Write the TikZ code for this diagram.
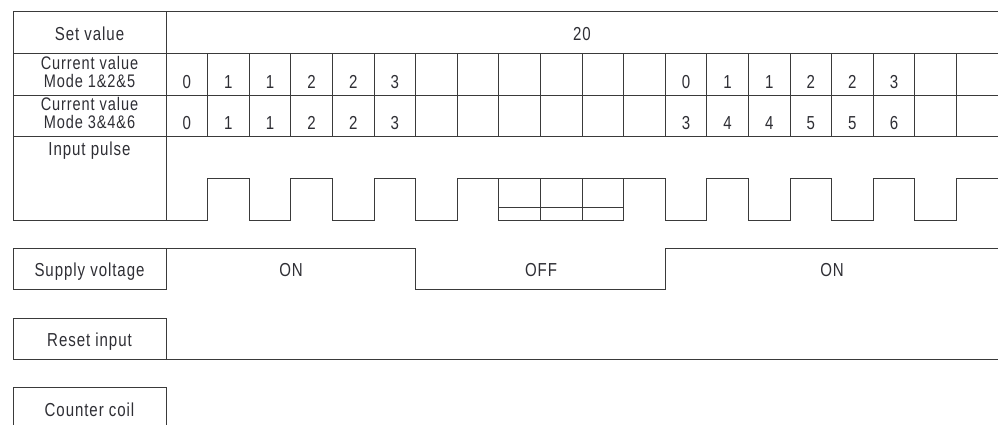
\documentclass[tikz,border=0pt]{standalone}
\usepackage{fontspec}
\setmainfont{Liberation Sans}[FakeStretch=0.8,LetterSpace=5]
\definecolor{ink}{HTML}{3A3A3A}
\definecolor{txt}{HTML}{2E2E34}
\begin{document}
\begin{tikzpicture}[x=1pt,y=-1pt,
  ln/.style={draw=ink,line width=1pt,line join=miter},
  lbl/.style={text=txt,inner sep=0pt,anchor=base,font=\fontsize{18.8}{18}\selectfont},
  lbs/.style={lbl,font=\fontsize{18.2}{17}\selectfont}]
\useasboundingbox (0,0) rectangle (998,424);
\clip (0,0) rectangle (998,424);
% ---------- table frame ----------
\draw[ln] (13,11) -- (998,11);
\draw[ln] (13,53) -- (998,53);
\draw[ln] (13,95) -- (998,95);
\draw[ln] (13,136) -- (998,136);
\draw[ln] (13,11) -- (13,220) -- (166,220);
\draw[ln] (166,11) -- (166,220);
\foreach \k in {1,...,19}{
  \draw[ln] ({166+41.6*\k},53) -- ({166+41.6*\k},136);
}
% ---------- labels ----------
\node[lbl] (setv) at (89.5,40) {Set value};
\node[lbs] (cv1a) at (89.5,69.5) {Current value};
\node[lbs] (cv1b) at (89.5,87) {Mode 1\&2\&5};
\node[lbs] (cv2a) at (89.5,110.5) {Current value};
\node[lbs] (cv2b) at (89.5,128) {Mode 3\&4\&6};
\node[lbl] (inp) at (89.5,155) {Input pulse};
\node[lbl] (twenty) at (582,40) {20};
% ---------- digits ----------
\foreach \k/\v in {0/0,1/1,2/1,3/2,4/2,5/3,12/0,13/1,14/1,15/2,16/2,17/3}{
  \node[lbl] (a\k) at ({186.8+41.6*\k},88) {\v};
}
\foreach \k/\v in {0/0,1/1,2/1,3/2,4/2,5/3,12/3,13/4,14/4,15/5,16/5,17/6}{
  \node[lbl] (b\k) at ({186.8+41.6*\k},129) {\v};
}
% ---------- input pulse ----------
\draw[ln] (166,220) -- (207.6,220) -- (207.6,178) -- (249.2,178) -- (249.2,220)
  -- (290.8,220) -- (290.8,178) -- (332.4,178) -- (332.4,220)
  -- (374,220) -- (374,178) -- (415.6,178) -- (415.6,220)
  -- (457.2,220) -- (457.2,178) -- (665.2,178) -- (665.2,220)
  -- (706.8,220) -- (706.8,178) -- (748.4,178) -- (748.4,220)
  -- (790,220) -- (790,178) -- (831.6,178) -- (831.6,220)
  -- (873.2,220) -- (873.2,178) -- (914.8,178) -- (914.8,220)
  -- (956.4,220) -- (956.4,178) -- (998,178);
\draw[ln] (498.8,178) rectangle (623.6,220);
\draw[ln] (540.4,178) -- (540.4,220);
\draw[ln] (582,178) -- (582,220);
\draw[ln] (498.8,207) -- (623.6,207);
% ---------- supply voltage ----------
\draw[ln] (166,248) -- (13,248) -- (13,289) -- (166,289) -- (166,248);
\draw[ln] (166,248) -- (415.6,248) -- (415.6,289) -- (665.2,289) -- (665.2,248) -- (998,248);
\node[lbl] (sup) at (89.5,276) {Supply voltage};
\node[lbl] (on1) at (291,276) {ON};
\node[lbl] (off) at (541,276) {OFF};
\node[lbl] (on2) at (832,276) {ON};
% ---------- reset input ----------
\draw[ln] (13,318) rectangle (166,359);
\draw[ln] (166,359) -- (998,359);
\node[lbl] (rst) at (89.5,346) {Reset input};
% ---------- counter coil ----------
\draw[ln] (13,430) -- (13,387) -- (166,387) -- (166,430);
\node[lbl] (cc) at (89.5,416) {Counter coil};
\end{tikzpicture}
\end{document}
